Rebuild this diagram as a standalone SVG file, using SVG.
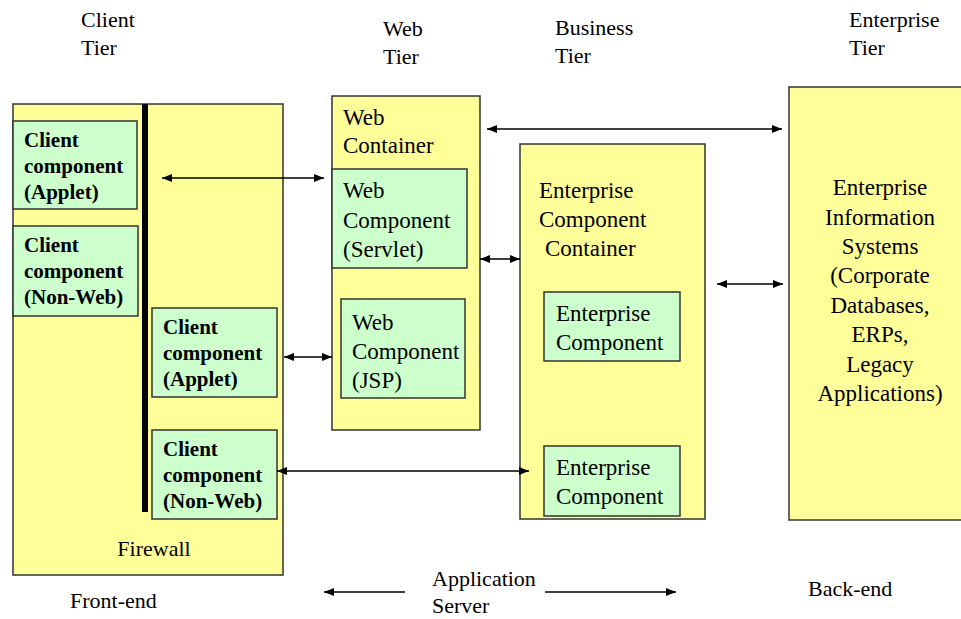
<svg xmlns="http://www.w3.org/2000/svg" width="961" height="619" viewBox="0 0 961 619">
  <style>
    .tier { fill: #FFFF99; stroke: #333; stroke-width: 1.5; }
    .part { fill: #CCFFCC; stroke: #333; stroke-width: 1.5; }
    .nrm { font-family: 'Liberation Serif', serif; font-size: 23px; fill: #000; }
    .bld { font-family: 'Liberation Serif', serif; font-size: 21px; font-weight: bold; fill: #000; }
    .lab { font-family: 'Liberation Serif', serif; font-size: 22px; fill: #000; }
    .wire { stroke: #000; stroke-width: 1.4; fill: none; }
  </style>
  <defs>
    <marker id="ah" viewBox="0 0 10 8" refX="10" refY="4" markerWidth="10" markerHeight="8" markerUnits="userSpaceOnUse" orient="auto-start-reverse">
      <path d="M0,0 L10,4 L0,8 Z" fill="#000"/>
    </marker>
  </defs>
  <rect width="961" height="619" fill="#fff"/>

  <!-- tier headings -->
  <g id="headings">
    <text class="lab" x="81" y="27">Client</text>
    <text class="lab" x="81" y="55">Tier</text>
    <text class="lab" x="383" y="36">Web</text>
    <text class="lab" x="383" y="64">Tier</text>
    <text class="lab" x="555" y="35">Business</text>
    <text class="lab" x="555" y="63">Tier</text>
    <text class="lab" x="849" y="27">Enterprise</text>
    <text class="lab" x="849" y="55">Tier</text>
  </g>

  <!-- client tier with firewall -->
  <g id="client-tier">
    <rect class="tier" x="13" y="104" width="270" height="471"/>
    <rect x="142" y="104" width="6" height="408" fill="#000"/>
    <text class="lab" x="154" y="556" text-anchor="middle">Firewall</text>
  </g>
  <g id="client-applet-1">
    <rect class="part" x="13" y="121" width="124" height="88"/>
    <text class="bld" x="24" y="147">Client</text>
    <text class="bld" x="24" y="173">component</text>
    <text class="bld" x="24" y="199">(Applet)</text>
  </g>
  <g id="client-nonweb-1">
    <rect class="part" x="13" y="226" width="125" height="90"/>
    <text class="bld" x="24" y="252">Client</text>
    <text class="bld" x="24" y="278">component</text>
    <text class="bld" x="24" y="304">(Non-Web)</text>
  </g>
  <g id="client-applet-2">
    <rect class="part" x="152" y="308" width="125" height="89"/>
    <text class="bld" x="163" y="334">Client</text>
    <text class="bld" x="163" y="360">component</text>
    <text class="bld" x="163" y="386">(Applet)</text>
  </g>
  <g id="client-nonweb-2">
    <rect class="part" x="152" y="430" width="125" height="89"/>
    <text class="bld" x="163" y="456">Client</text>
    <text class="bld" x="163" y="482">component</text>
    <text class="bld" x="163" y="508">(Non-Web)</text>
  </g>

  <!-- web tier -->
  <g id="web-container">
    <rect class="tier" x="332" y="96" width="148" height="334"/>
    <text class="nrm" x="343" y="125">Web</text>
    <text class="nrm" x="343" y="153">Container</text>
  </g>
  <g id="web-servlet">
    <rect class="part" x="332" y="169" width="135" height="99"/>
    <text class="nrm" x="343" y="198">Web</text>
    <text class="nrm" x="343" y="228">Component</text>
    <text class="nrm" x="343" y="257">(Servlet)</text>
  </g>
  <g id="web-jsp">
    <rect class="part" x="341" y="299" width="124" height="99"/>
    <text class="nrm" x="352" y="330">Web</text>
    <text class="nrm" x="352" y="359">Component</text>
    <text class="nrm" x="352" y="388">(JSP)</text>
  </g>

  <!-- business tier -->
  <g id="ejb-container">
    <rect class="tier" x="520" y="144" width="185" height="375"/>
    <text class="nrm" x="539" y="198">Enterprise</text>
    <text class="nrm" x="539" y="227">Component</text>
    <text class="nrm" x="545" y="256">Container</text>
  </g>
  <g id="ejb-1">
    <rect class="part" x="544" y="292" width="136" height="69"/>
    <text class="nrm" x="556" y="321">Enterprise</text>
    <text class="nrm" x="556" y="350">Component</text>
  </g>
  <g id="ejb-2">
    <rect class="part" x="544" y="446" width="136" height="70"/>
    <text class="nrm" x="556" y="475">Enterprise</text>
    <text class="nrm" x="556" y="504">Component</text>
  </g>

  <!-- enterprise tier -->
  <g id="eis">
    <rect class="tier" x="789" y="87" width="180" height="433"/>
    <text class="nrm" text-anchor="middle" x="880" y="195">Enterprise</text>
    <text class="nrm" text-anchor="middle" x="880" y="225">Information</text>
    <text class="nrm" text-anchor="middle" x="880" y="254">Systems</text>
    <text class="nrm" text-anchor="middle" x="880" y="283">(Corporate</text>
    <text class="nrm" text-anchor="middle" x="880" y="313">Databases,</text>
    <text class="nrm" text-anchor="middle" x="880" y="342">ERPs,</text>
    <text class="nrm" text-anchor="middle" x="880" y="372">Legacy</text>
    <text class="nrm" text-anchor="middle" x="880" y="401">Applications)</text>
  </g>

  <!-- deployment labels -->
  <g id="layers">
    <text class="lab" x="70" y="608">Front-end</text>
    <text class="lab" x="432" y="586">Application</text>
    <text class="lab" x="432" y="613">Server</text>
    <text class="lab" x="808" y="596">Back-end</text>
  </g>

  <!-- connectors -->
  <g id="connectors">
    <line class="wire" x1="162" y1="178" x2="324" y2="178" marker-start="url(#ah)" marker-end="url(#ah)"/>
    <line class="wire" x1="284" y1="357" x2="332" y2="357" marker-start="url(#ah)" marker-end="url(#ah)"/>
    <line class="wire" x1="277" y1="471" x2="529" y2="471" marker-start="url(#ah)" marker-end="url(#ah)"/>
    <line class="wire" x1="487" y1="129" x2="782" y2="129" marker-start="url(#ah)" marker-end="url(#ah)"/>
    <line class="wire" x1="480" y1="259" x2="520" y2="259" marker-start="url(#ah)" marker-end="url(#ah)"/>
    <line class="wire" x1="717" y1="284" x2="783" y2="284" marker-start="url(#ah)" marker-end="url(#ah)"/>
    <line class="wire" x1="405" y1="592" x2="324" y2="592" marker-end="url(#ah)"/>
    <line class="wire" x1="545" y1="592" x2="676" y2="592" marker-end="url(#ah)"/>
  </g>
</svg>
